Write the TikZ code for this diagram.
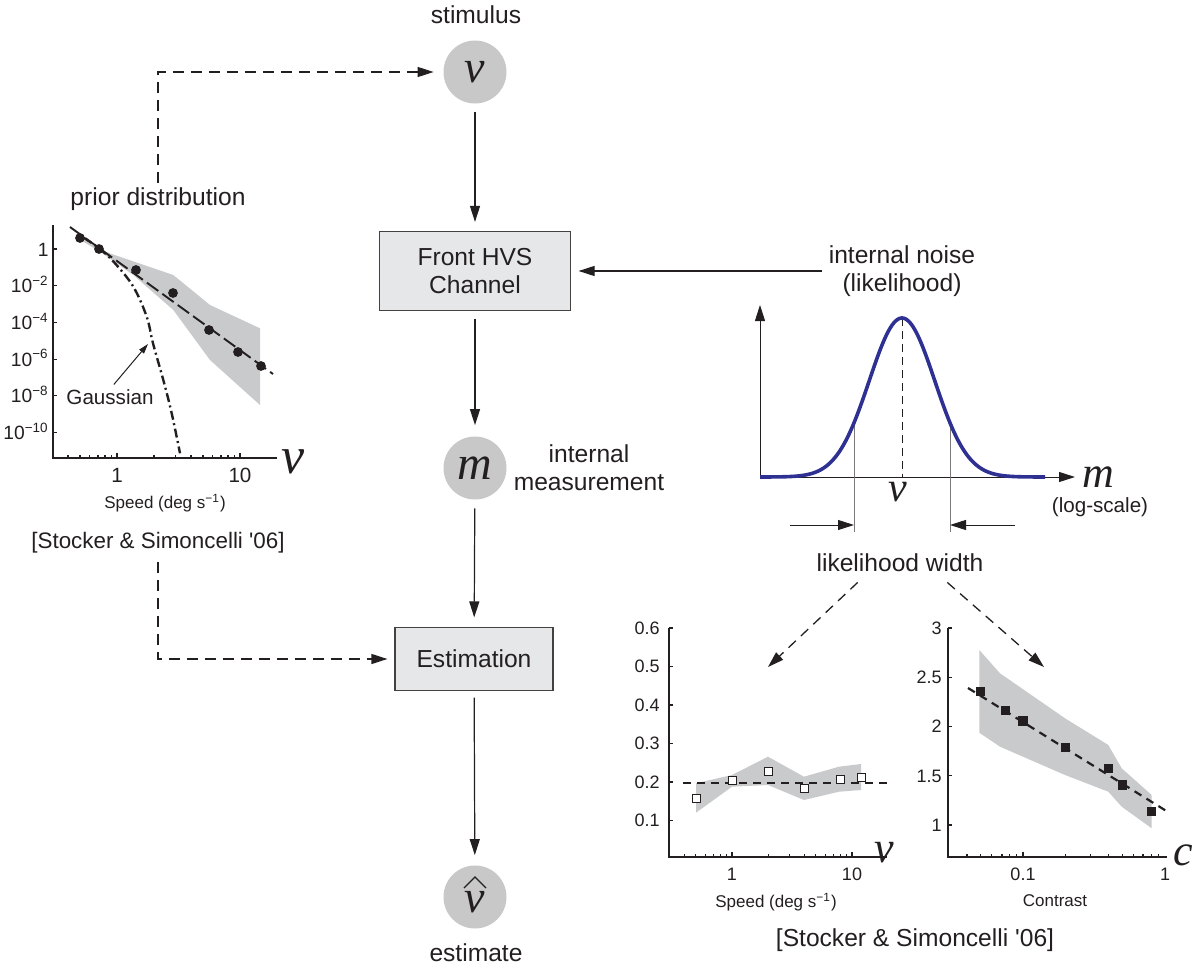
\documentclass[tikz,border=0pt]{standalone}
\usepackage{fontspec}
\setmainfont{Liberation Sans}
\newfontfamily\tms{Liberation Serif}
\usetikzlibrary{arrows.meta}
\definecolor{ink}{RGB}{35,31,32}
\definecolor{cfill}{RGB}{200,200,200}
\definecolor{bfill}{RGB}{230,231,232}
\definecolor{bandc}{RGB}{201,202,203}
\definecolor{lblue}{RGB}{46,49,146}
\newcommand\labfont{\fontsize{12.3}{15}\selectfont}
\newcommand\reffont{\fontsize{11.2}{14}\selectfont}
\newcommand\tickfont{\fontsize{9}{11}\selectfont}
\newcommand\ptickfont{\fontsize{10.3}{12}\selectfont}
\newcommand\pyfont{\fontsize{9.6}{12}\selectfont}
\newcommand\titfont{\fontsize{8.5}{10}\selectfont}
\newcommand\bigvar[2]{{\fontsize{#1}{#1}\selectfont\tms\itshape #2}}
\begin{document}
\begin{tikzpicture}[x=0.5pt,y=-0.5pt,
  every node/.style={text=ink, inner sep=0pt},
  arr/.style={-{Triangle[length=8pt,width=5pt]}, line width=0.6pt, draw=ink},
  darr/.style={arr, line width=0.65pt, dash pattern=on 5.5pt off 3.5pt},
  ddarr/.style={arr, line width=0.65pt, dash pattern=on 5pt off 3.5pt},
  circ/.style={circle, fill=cfill, minimum size=31.5pt},
  box/.style={draw=ink!85, fill=bfill, line width=0.6pt, align=center, font=\labfont},
  lab/.style={font=\labfont, align=center},
  axis/.style={line width=0.6pt, draw=ink},
  osq/.style={draw=ink, fill=white, line width=0.5pt, minimum size=4pt},
  fsq/.style={fill=ink, minimum size=4.7pt},
  dot/.style={circle, fill=ink, minimum size=4.9pt}]
\useasboundingbox (0,0) rectangle (1196,969);

% ---------------- main chain ----------------
\node[lab] (stimtxt) at (476,15) {stimulus};
\node[circ] (v) at (475,72) {\raisebox{-1.5pt}{\bigvar{23}{v}}};
\node[box, minimum width=95.5pt, minimum height=39.5pt] (hvs) at (475,271) {Front HVS\\[-1pt]Channel};
\node[circ] (m) at (475,468) {\raisebox{-1pt}{\bigvar{24}{m}}};
\node[lab] (imeas) at (589,468) {internal\\[-1pt]measurement};
\node[box, minimum width=79pt, minimum height=31.5pt] (est) at (474,659) {Estimation};
\node[circ] (vh) at (475,897) {};
\node (vhv) at (475,902) {\bigvar{23}{v}};
\draw[ink, line width=0.6pt] (464,888) -- (475,877) -- (486,888);
\node[lab] (esttxt) at (476,953) {estimate};

\draw[arr, shorten <=4pt, shorten >=4.5pt] (v) -- (hvs);
\draw[arr, shorten <=3.75pt, shorten >=5.5pt] (hvs) -- (m);
\draw[arr, shorten <=4.25pt, shorten >=4.75pt] (m) -- (est);
\draw[arr, shorten <=3.25pt, shorten >=5pt] (est) -- (vh);

% ---------------- prior side ----------------
\node[lab] (prior) at (158,199) {prior distribution};
\node[font=\reffont] (ref1) at (158,543) {[Stocker \& Simoncelli \textquotesingle 06]};
\draw[darr, shorten <=2pt, shorten >=4.75pt] (prior.north) |- (v.west);
\draw[darr, shorten <=4pt, shorten >=3.5pt] (ref1.south) |- (est.west);

% prior plot
\fill[bandc] (85,240) -- (100,250) -- (173.3,275) -- (210,305) -- (260,328.3)
  -- (260,405) -- (210,360) -- (173.3,310) -- (133.3,275) -- (100,251.7) -- (83.3,241.7) -- cycle;
\draw[axis] (53,225) -- (53,458) -- (277,458);
\foreach \l/\t [count=\i] in {0/{1},-2/{10\textsuperscript{−2}},-4/{10\textsuperscript{−4}},-6/{10\textsuperscript{−6}},-8/{10\textsuperscript{−8}},-10/{10\textsuperscript{−10}}}{
  \draw[axis] (53,{249-18.35*\l}) -- ++(4,0);
  \node[anchor=base east, font=\pyfont] (py\i) at (49,{249-18.35*\l+7}) {\t};
}
\foreach \s in {0.4,0.5,0.6,0.7,0.8,0.9,2,3,4,5,6,7,8,9}{
  \draw[axis] ({117+123*log10(\s)},458) -- ++(0,-3);
}
\draw[axis] (117,458) -- ++(0,-5);
\draw[axis] (240,458) -- ++(0,-5);
\node[anchor=base, font=\ptickfont] (px1) at (117,482) {1};
\node[anchor=base, font=\ptickfont] (px2) at (240,482) {10};
\node[font=\titfont] (pxt) at (165,503) {Speed (deg s\textsuperscript{−1})};
\node (pv) at (293,462) {\bigvar{26}{v}};
\draw[ink, line width=0.95pt, dash pattern=on 7pt off 2.5pt] (70,227) -- (273,374);
\draw[ink, line width=1.2pt, dash pattern=on 4.5pt off 1.8pt on 1pt off 1.8pt]
  plot[smooth, tension=0.6] coordinates {(84,238) (100,249) (115,263.3) (133.3,286.7) (146.7,316.7) (153,343.3) (163.3,380) (171.7,413.3) (180,453.3)};
\foreach \x/\y [count=\i] in {80/238,99/249,136/270,173/293,209/330,238/352,261/366}{
  \node[dot] (pd\i) at (\x,\y) {};
}
\node[font=\ptickfont] (gauss) at (110,397) {Gaussian};
\coordinate (gtip) at (148,344);
\draw[-{Triangle[length=5pt,width=3pt]}, ink, line width=0.5pt, shorten <=3pt] (gauss.north) -- (gtip);

% ---------------- likelihood ----------------
\node[lab] (noise) at (902,271) {internal noise\\[-1pt](likelihood)};
\draw[arr, shorten <=3pt, shorten >=3.75pt] (noise.west) -- (hvs.east);

\draw[arr, line width=0.5pt] (760,477) -- (760,305);
\draw[arr, line width=0.5pt] (760,477) -- (1075,477);
\draw[ink!60, line width=0.35pt] (854,423) -- (854,532);
\draw[ink!60, line width=0.35pt] (950,423) -- (950,532);
\draw[ink, line width=0.5pt, dash pattern=on 4pt off 2.5pt] (902,318) -- (902,477);
\draw[lblue, line width=1.8pt, domain=760:1045, samples=150, line join=round]
  plot (\x, {477-159*exp(-0.5*((\x-902)/32.7)^2)});
\draw[arr, line width=0.5pt] (790,525) -- (854,525);
\draw[arr, line width=0.5pt] (1015,525) -- (950,525);
\node (lv) at (898,492) {\bigvar{21}{v}};
\node (lm) at (1098,477) {\bigvar{22}{m}};
\node[font=\ptickfont] (logs) at (1100,507) {(log-scale)};

\node[lab] (lw) at (900,563) {likelihood width};
\coordinate (lwl) at (768,667);
\coordinate (lwr) at (1044,667);
\draw[ddarr] ([xshift=20.75pt,yshift=-5pt]lw.south west) -- (lwl);
\draw[ddarr] ([xshift=-18.25pt,yshift=-5pt]lw.south east) -- (lwr);

% ---------------- speed plot ----------------
\fill[bandc] (696,783.3) -- (732,775) -- (768,756.7) -- (804,776.7) -- (839,766.7) -- (861,764)
  -- (861,790) -- (839,791.7) -- (804,800) -- (768,785) -- (732,786.7) -- (696,812.7) -- cycle;
\draw[axis] (669,628) -- (669,857) -- (887,857);
\foreach \v/\y [count=\i] in {0.1/820.5,0.2/782,0.3/743.5,0.4/705,0.5/666.5,0.6/628}{
  \draw[axis] (669,\y) -- ++(4,0);
  \node[anchor=base east, font=\tickfont] (sy\i) at (660,\y+6.4) {\v};
}
\foreach \s in {0.4,0.5,0.6,0.7,0.8,0.9,2,3,4,5,6,7,8,9}{
  \draw[axis] ({732+120*log10(\s)},857) -- ++(0,-3);
}
\draw[axis] (732,857) -- ++(0,-5);
\draw[axis] (852,857) -- ++(0,-5);
\node[anchor=base, font=\tickfont] (sx1) at (732,880.5) {1};
\node[anchor=base, font=\tickfont] (sx2) at (852,880.5) {10};
\node[font=\titfont] (sxt) at (776,902) {Speed (deg s\textsuperscript{−1})};
\draw[ink, line width=1.1pt, dash pattern=on 4pt off 3pt] (683,782.7) -- (887,782.7);
\foreach \x/\y [count=\i] in {696/798.6,732/780.8,768/771.6,804/788.9,840/779.3,861/777.4}{
  \node[osq] (ss\i) at (\x,\y) {};
}
\node (sv) at (884,853) {\bigvar{22}{v}};

% ---------------- contrast plot ----------------
\fill[bandc] (979.3,650) -- (1000,673.3) -- (1065,718.3) -- (1108.3,745) -- (1121.7,768.3) -- (1151.7,795)
  -- (1151.7,828.3) -- (1121.7,806.7) -- (1108.3,791.7) -- (1065,775) -- (1000,746.7) -- (979.3,732.7) -- cycle;
\draw[axis] (948,628) -- (948,857) -- (1167,857);
\foreach \v/\y [count=\i] in {1/825,1.5/775.7,2/726.4,2.5/677.1,3/628}{
  \draw[axis] (948,\y) -- ++(4,0);
  \node[anchor=base east, font=\tickfont] (cy\i) at (942,\y+6.4) {\v};
}
\foreach \c in {0.04,0.05,0.06,0.07,0.08,0.09,0.2,0.3,0.4,0.5,0.6,0.7,0.8,0.9}{
  \draw[axis] ({1165+142*log10(\c)},857) -- ++(0,-3);
}
\draw[axis] (1023,857) -- ++(0,-5);
\node[anchor=base, font=\tickfont] (cx1) at (1023,880.5) {0.1};
\node[anchor=base, font=\tickfont] (cx2) at (1165,880.5) {1};
\node[font=\titfont] (cxt) at (1055,901) {Contrast};
\draw[ink, line width=1.1pt, dash pattern=on 4pt off 3pt] (968,688) -- (1168,812);
\foreach \x/\y [count=\i] in {980.3/691.7,1005.3/710.7,1023/721,1065.7/747.3,1108.5/768.3,1122.3/785,1151.2/811.7}{
  \node[fsq] (cs\i) at (\x,\y) {};
}
\node (cc) at (1183,855) {\bigvar{22}{c}};

\node[lab] (ref2) at (915,940) {[Stocker \& Simoncelli \textquotesingle 06]};
\end{tikzpicture}
\end{document}
